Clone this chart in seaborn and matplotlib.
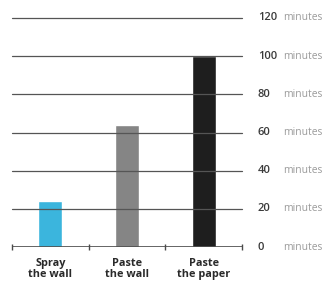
import matplotlib
matplotlib.use("Agg")
import matplotlib.pyplot as plt
import seaborn as sns
import pandas as pd
from matplotlib.ticker import FixedLocator
import matplotlib.transforms as mtransforms

categories = ["Spray\nthe wall", "Paste\nthe wall", "Paste\nthe paper"]
values = [24, 64, 100]
colors = ["#3bb5dd", "#858585", "#1e1e1e"]
tick_values = [0, 20, 40, 60, 80, 100, 120]
unit = "minutes"

sns.set_style("white")
plt.rcParams["font.family"] = ["Open Sans", "DejaVu Sans"]

fig = plt.figure(figsize=(3.33, 2.84), dpi=100)
ax = fig.add_axes([12/333, 1-247/284, 230/333, (247-18)/284])

df = pd.DataFrame({"task": categories, "minutes": values})
sns.barplot(data=df, x="task", y="minutes", hue="task", palette=colors,
            width=0.31, ax=ax, legend=False, saturation=1, zorder=1)

ax.set_xlim(-0.5, 2.5)
ax.set_ylim(0, 120)
for v in tick_values[1:]:
    ax.axhline(v, color="#555555", lw=0.9, zorder=2, clip_on=False)
ax.axhline(0, color="#4a4a4a", lw=1.2, zorder=3)

for s in ax.spines.values():
    s.set_visible(False)

ax.set_xlabel("")
ax.set_ylabel("")
ax.set_yticks([])
ax.xaxis.set_minor_locator(FixedLocator([-0.5, 0.5, 1.5, 2.5]))
ax.tick_params(axis="x", which="major", length=0, pad=8, labelsize=7.8)
ax.tick_params(axis="x", which="minor", length=5, width=1, direction="inout", color="#4a4a4a", bottom=True)
for lbl in ax.get_xticklabels():
    lbl.set_fontweight("bold")
    lbl.set_color("#2a2a2a")
    lbl.set_linespacing(0.95)

trans = mtransforms.blended_transform_factory(ax.transAxes, ax.transData)
for v in tick_values:
    ax.text((258-12)/230, v, str(v), transform=trans, ha="left", va="center",
            fontsize=8, color="#3a3a3a", fontweight="semibold", clip_on=False)
    ax.text((283-12)/230, v, unit, transform=trans, ha="left", va="center",
            fontsize=7.4, color="#9a9a9a", clip_on=False)

fig.savefig("out.png", dpi=100)
